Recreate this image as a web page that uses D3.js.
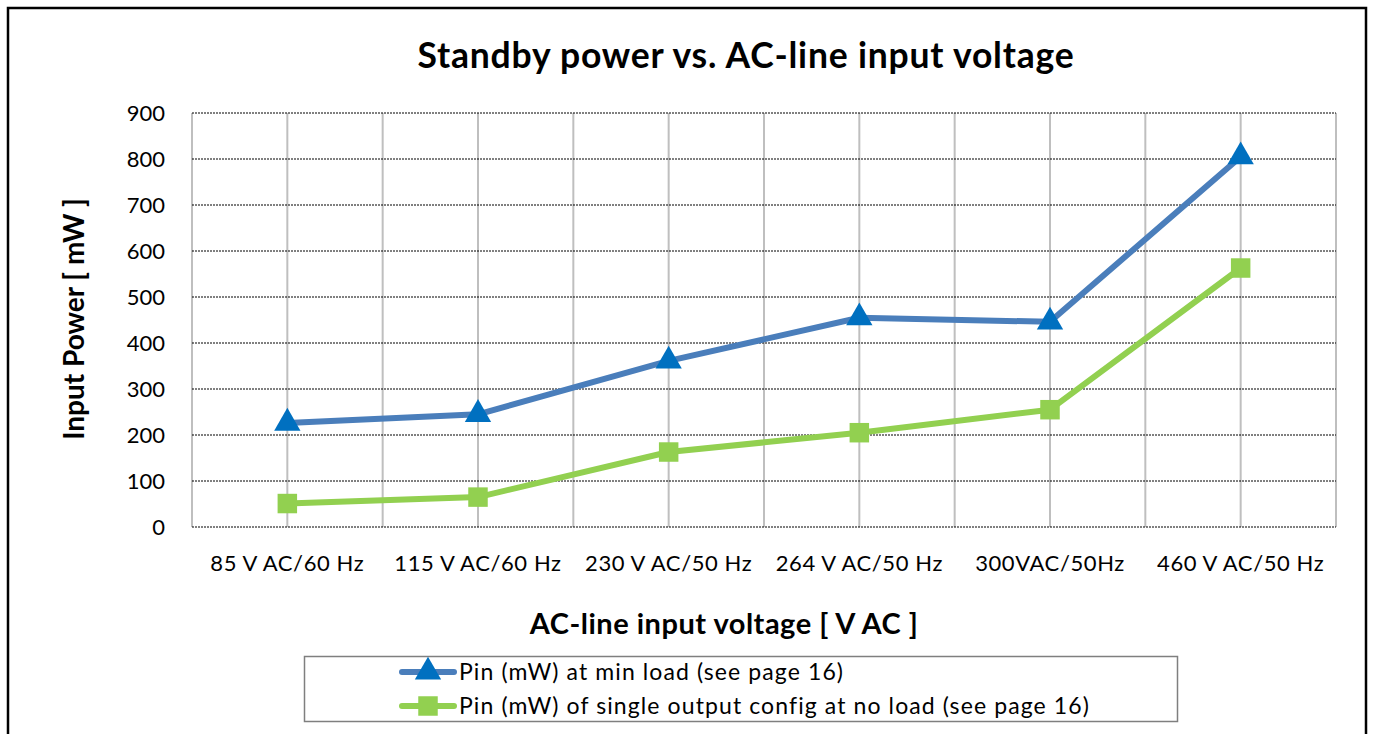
<!DOCTYPE html>
<html>
<head>
<meta charset="utf-8">
<script src="https://cdn.jsdelivr.net/npm/d3@7"></script>
<style>
  body { margin: 0; background: #fff; }
  text { font-family: Lato, "Open Sans", sans-serif; fill: #000; }
</style>
</head>
<body>
<div id="chart"></div>
<script>
// categories on the x axis
var categories = ["85 V AC/60 Hz", "115 V AC/60 Hz", "230 V AC/50 Hz",
                  "264 V AC/50 Hz", "300VAC/50Hz", "460 V AC/50 Hz"];
// Pin at min load (mW)
var minLoad = [226, 245, 361, 455, 446, 805];
// Pin single output config, no load (mW)
var noLoad = [51, 65, 163, 205, 255, 563];
var yTicks = [0, 100, 200, 300, 400, 500, 600, 700, 800, 900];
var seriesNames = ["Pin (mW) at min load (see page 16)",
                   "Pin (mW) of single output config at no load (see page 16)"];

(function() {
  var width = 1373, height = 734;
  var margin = { top: 113, left: 192, right: 37, bottom: 207 };

  var svg = d3.select("#chart")
      .append("svg")
      .attr("width", width)
      .attr("height", height);

  // outer frame
  svg.append("rect")
      .attr("x", 8).attr("y", 8)
      .attr("width", 1358).attr("height", 740)
      .attr("fill", "none")
      .attr("stroke", "#000")
      .attr("stroke-width", 2.5);

  var x = d3.scaleBand()
      .domain(categories)
      .range([margin.left, width - margin.right]);

  var y = d3.scaleLinear()
      .domain([0, 900])
      .range([height - margin.bottom, margin.top]);

  var cx = function(i) { return x(categories[i]) + x.bandwidth() / 2; };

  // vertical gridlines: band edges and band centres
  var vlines = [];
  categories.forEach(function(c) {
    vlines.push(x(c));
    vlines.push(x(c) + x.bandwidth() / 2);
  });
  vlines.push(width - margin.right);

  svg.append("g").selectAll("line")
      .data(vlines)
      .enter().append("line")
      .attr("x1", function(d) { return d; })
      .attr("x2", function(d) { return d; })
      .attr("y1", y(900))
      .attr("y2", y(0))
      .attr("stroke", "#bfbfbf")
      .attr("stroke-width", 2);

  // horizontal dotted gridlines
  svg.append("g").selectAll("line")
      .data(yTicks)
      .enter().append("line")
      .attr("x1", margin.left)
      .attr("x2", width - margin.right)
      .attr("y1", function(d) { return y(d); })
      .attr("y2", function(d) { return y(d); })
      .attr("stroke", "#000")
      .attr("stroke-width", 1)
      .attr("stroke-dasharray", "2,1");

  // y axis labels
  var yAxis = d3.axisLeft(y).tickValues(yTicks).tickSize(0).tickPadding(27);
  var gy = svg.append("g")
      .attr("transform", "translate(" + margin.left + ",0)")
      .call(yAxis);
  gy.select(".domain").remove();
  gy.selectAll("text").style("font-size", "22px").attr("dy", "0.35em");

  // x axis labels
  var xAxis = d3.axisBottom(x).tickSize(0).tickPadding(28);
  var gx = svg.append("g")
      .attr("transform", "translate(0," + y(0) + ")")
      .call(xAxis);
  gx.select(".domain").remove();
  gx.selectAll("text").style("font-size", "22px").style("letter-spacing", "0.6px");

  // titles
  svg.append("text")
      .attr("x", 746).attr("y", 68)
      .attr("text-anchor", "middle")
      .style("font-size", "35.5px").style("font-weight", "bold")
      .style("letter-spacing", "0.8px")
      .text("Standby power vs. AC-line input voltage");

  svg.append("text")
      .attr("x", 724).attr("y", 634)
      .attr("text-anchor", "middle")
      .style("font-size", "29px").style("font-weight", "bold")
      .style("letter-spacing", "0.5px")
      .text("AC-line input voltage [ V AC ]");

  svg.append("text")
      .attr("transform", "translate(84,319) rotate(-90)")
      .attr("text-anchor", "middle")
      .style("font-size", "28px").style("font-weight", "bold")
      .text("Input Power [ mW ]");

  var line = d3.line()
      .x(function(d, i) { return cx(i); })
      .y(function(d) { return y(d); });

  var lineColors = ["#4a7ebb", "#92d050"];
  var markColors = ["#0070c0", "#92d050"];
  var sym = [d3.symbolTriangle, d3.symbolSquare];
  var symSize = [300, 380];

  [minLoad, noLoad].forEach(function(data, k) {
    svg.append("path")
        .datum(data)
        .attr("d", line)
        .attr("fill", "none")
        .attr("stroke", lineColors[k])
        .attr("stroke-width", 6)
        .attr("stroke-linejoin", "round");

    svg.append("g").selectAll("path")
        .data(data)
        .enter().append("path")
        .attr("transform", function(d, i) { return "translate(" + cx(i) + "," + y(d) + ")"; })
        .attr("d", d3.symbol().type(sym[k]).size(symSize[k]))
        .attr("fill", markColors[k]);
  });

  // legend
  var lg = svg.append("g");
  lg.append("rect")
      .attr("x", 304.5).attr("y", 656.5)
      .attr("width", 873).attr("height", 65)
      .attr("fill", "#fff")
      .attr("stroke", "#7f7f7f")
      .attr("stroke-width", 1.5);

  seriesNames.forEach(function(name, k) {
    var ly = 672 + k * 34;
    lg.append("line")
        .attr("x1", 402).attr("x2", 454)
        .attr("y1", ly).attr("y2", ly)
        .attr("stroke", lineColors[k])
        .attr("stroke-width", 6)
        .attr("stroke-linecap", "round");
    lg.append("path")
        .attr("transform", "translate(428," + ly + ")")
        .attr("d", d3.symbol().type(sym[k]).size(symSize[k]))
        .attr("fill", markColors[k]);
    lg.append("text")
        .attr("x", 459).attr("y", ly)
        .attr("dy", "0.35em")
        .style("font-size", "23px")
        .style("letter-spacing", "1.1px")
        .text(name);
  });
})();
</script>
</body>
</html>
